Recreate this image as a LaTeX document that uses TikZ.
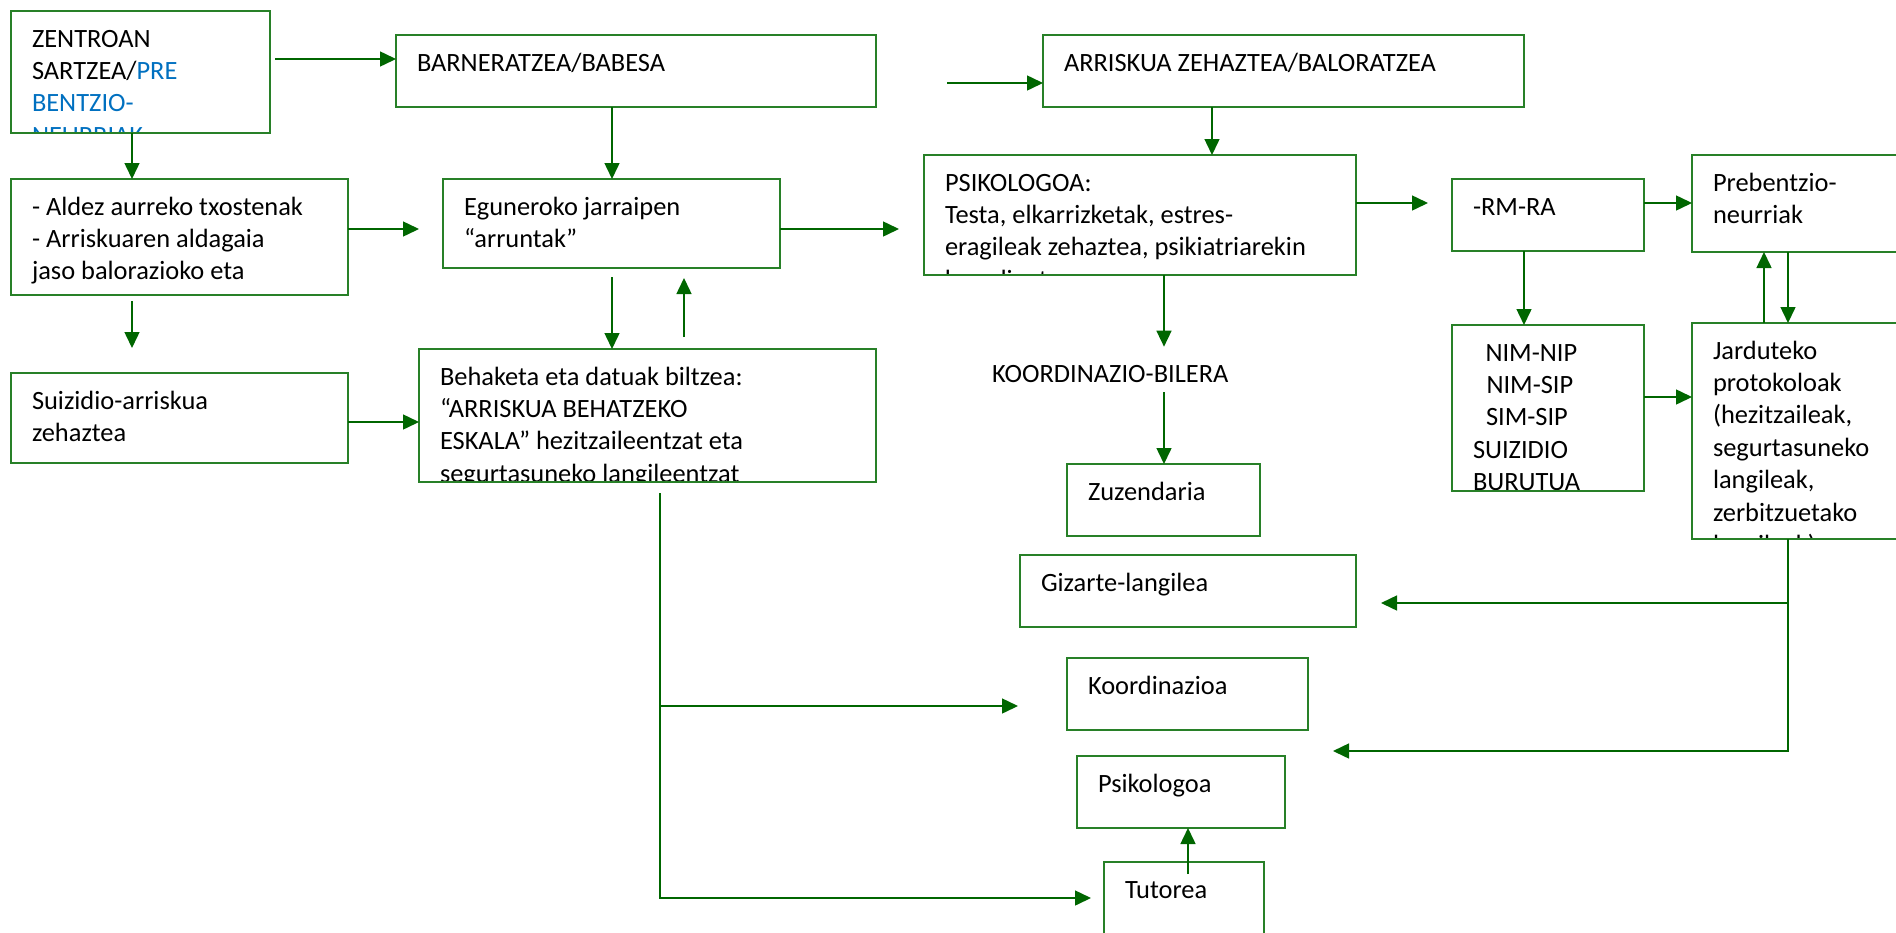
\documentclass[tikz,border=0pt]{standalone}
\usepackage{fontspec}
\setmainfont{Carlito}
\usetikzlibrary{arrows.meta}
\definecolor{boxgreen}{RGB}{40,128,40}
\definecolor{arrgreen}{RGB}{0,102,0}
\definecolor{textblue}{RGB}{0,112,192}
\newcommand{\boxfont}{\fontsize{26.4}{32.4}\selectfont}

\begin{document}
\begin{tikzpicture}[x=1pt,y=-1pt,
	box/.style={draw=boxgreen,line width=1.5pt,anchor=north west,inner sep=0pt,outer sep=0pt},
	boxtext/.style={path picture={\node[draw=none,minimum size=0pt,anchor=base west,inner sep=0pt,font=\boxfont]
		at ([shift={(21,36)}]path picture bounding box.north west)
		{\begin{tabular}[t]{@{}l@{}}#1\end{tabular}};}},
	arr/.style={draw=arrgreen,line width=1.5pt,-{Triangle[length=16pt,width=15pt]}}]
	\useasboundingbox (0,0) rectangle (1896,932);
	\clip (0,0) rectangle (1896,932);

	\node[box,minimum width=259pt,minimum height=122pt,
		boxtext={ZENTROAN\\SARTZEA/\textcolor{textblue}{PRE}\\\textcolor{textblue}{BENTZIO-}\\\textcolor{textblue}{NEURRIAK}}] (zent) at (11,11) {};
	\node[box,minimum width=480pt,minimum height=72pt,boxtext={BARNERATZEA/BABESA}] (barn) at (396,35) {};
	\node[box,minimum width=481pt,minimum height=72pt,boxtext={ARRISKUA ZEHAZTEA/BALORATZEA}] (arrz) at (1043,35) {};

	\node[box,minimum width=337pt,minimum height=116pt,
		boxtext={- Aldez aurreko txostenak\\- Arriskuaren aldagaia\\jaso balorazioko eta}] (aldez) at (11,179) {};
	\node[box,minimum width=337pt,minimum height=89pt,
		boxtext={Eguneroko jarraipen\\“arruntak”}] (egun) at (443,179) {};
	\node[box,minimum width=432pt,minimum height=120pt,
		boxtext={PSIKOLOGOA:\\Testa, elkarrizketak, estres-\\eragileak zehaztea, psikiatriarekin\\koordinatzea}] (psiko) at (924,155) {};
	\node[box,minimum width=192pt,minimum height=72pt,boxtext={-RM-RA}] (rmra) at (1452,179) {};
	\node[box,minimum width=260pt,minimum height=97pt,
		boxtext={Prebentzio-\\neurriak}] (preb) at (1692,155) {};

	\node[box,minimum width=337pt,minimum height=90pt,
		boxtext={Suizidio-arriskua\\zehaztea}] (suiz) at (11,373) {};
	\node[box,minimum width=457pt,minimum height=133pt,
		boxtext={Behaketa eta datuak biltzea:\\“ARRISKUA BEHATZEKO\\ESKALA” hezitzaileentzat eta\\segurtasuneko langileentzat}] (beha) at (419,349) {};
	\node[anchor=base west,inner sep=0pt,font=\boxfont] (kbil) at (992,382) {KOORDINAZIO-BILERA};
	\node[box,minimum width=192pt,minimum height=166pt,
		boxtext={\hspace*{12.5pt}NIM-NIP\\\hspace*{13.5pt}NIM-SIP\\\hspace*{13pt}SIM-SIP\\SUIZIDIO\\BURUTUA}] (nim) at (1452,325) {};
	\node[box,minimum width=260pt,minimum height=216pt,
		boxtext={Jarduteko\\protokoloak\\(hezitzaileak,\\segurtasuneko\\langileak,\\zerbitzuetako\\langileak)}] (jard) at (1692,323) {};

	\node[box,minimum width=193pt,minimum height=72pt,boxtext={Zuzendaria}] (zuzen) at (1067,464) {};
	\node[box,minimum width=336pt,minimum height=72pt,boxtext={Gizarte-langilea}] (giz) at (1020,555) {};
	\node[box,minimum width=241pt,minimum height=72pt,boxtext={Koordinazioa}] (koord) at (1067,658) {};
	\node[box,minimum width=208pt,minimum height=72pt,boxtext={Psikologoa}] (psik2) at (1077,756) {};
	\node[box,minimum width=160pt,minimum height=100pt,boxtext={Tutorea}] (tutor) at (1104,862) {};

	\coordinate (bfree) at (947,83);
	\coordinate (jbr) at (1788,603);
	\coordinate (bbr) at (660,706);

	\draw[arr,shorten <=5pt] (zent.east |- 0,59) -- (barn.west |- 0,59);
	\draw[arr] (bfree) -- (arrz.west |- bfree);
	\draw[arr] (zent.south -| 132,0) -- (aldez.north -| 132,0);
	\draw[arr] (barn.south -| 612,0) -- (egun.north -| 612,0);
	\draw[arr] (arrz.south -| 1212,0) -- (psiko.north -| 1212,0);
	\draw[arr,shorten >=24pt] (aldez.east |- 0,229) -- (egun.west |- 0,229);
	\draw[arr,shorten >=25pt] (egun.east |- 0,229) -- (psiko.west |- 0,229);
	\draw[arr,shorten >=24pt] (psiko.east |- 0,203) -- (rmra.west |- 0,203);
	\draw[arr] (rmra.east |- 0,203) -- (preb.west |- 0,203);
	\draw[arr,shorten <=6pt,shorten >=25pt] (aldez.south -| 132,0) -- (suiz.north -| 132,0);
	\draw[arr,shorten <=9pt] (egun.south -| 612,0) -- (beha.north -| 612,0);
	\draw[arr,shorten <=12pt,shorten >=10pt] (beha.north -| 684,0) -- (egun.south -| 684,0);
	\draw[arr] (suiz.east |- 0,422) -- (beha.west |- 0,422);
	\draw[arr,shorten >=18pt] (psiko.south -| 1164,0) -- (kbil.north -| 1164,0);
	\draw[arr,shorten <=10pt] (kbil.south -| 1164,0) -- (zuzen.north -| 1164,0);
	\draw[arr] (rmra.south -| 1524,0) -- (nim.north -| 1524,0);
	\draw[arr] (nim.east |- 0,397) -- (jard.west |- 0,397);
	\draw[arr] (jard.north -| 1764,0) -- (preb.south -| 1764,0);
	\draw[arr] (preb.south -| 1788,0) -- (jard.north -| 1788,0);
	\draw[arr,shorten >=25pt] (jard.south -| 1788,0) |- (koord.east |- 0,751);
	\draw[arr,shorten >=25pt] (jbr) -- (giz.east |- jbr);
	\draw[arr,shorten <=11pt,shorten >=13pt] (beha.south -| 660,0) |- (tutor.west |- 0,898);
	\draw[arr,shorten >=49pt] (bbr) -- (koord.west |- bbr);
	\draw[arr,shorten <=-12pt] (tutor.north -| 1188,0) -- (psik2.south -| 1188,0);
\end{tikzpicture}
\end{document}
